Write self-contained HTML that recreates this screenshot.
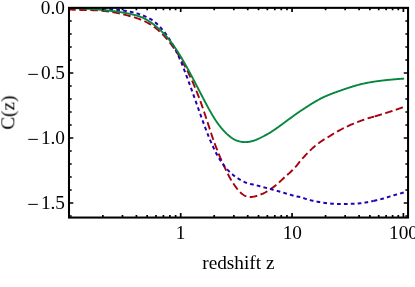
<!DOCTYPE html>
<html><head><meta charset="utf-8"><style>
html,body{margin:0;padding:0;background:#fff;}
svg{display:block;}
text{font-family:"Liberation Serif",serif;font-size:19.3px;fill:#000;}
path{fill:none;}
</style></head><body>
<svg width="415" height="287" viewBox="0 0 415 287">
<rect width="415" height="287" fill="#fff"/>
<path d="M68.10 9.39 L68.60 9.43 L69.10 9.47 L69.60 9.50 L70.10 9.54 L70.60 9.57 L71.10 9.60 L71.60 9.63 L72.10 9.65 L72.60 9.68 L73.10 9.70 L73.60 9.73 L74.10 9.75 L74.60 9.77 L75.10 9.78 L75.60 9.80 L76.10 9.82 L76.60 9.83 L77.10 9.85 L77.60 9.86 L78.10 9.87 L78.60 9.89 L79.10 9.90 L79.60 9.91 L80.10 9.92 L80.60 9.93 L81.10 9.94 L81.60 9.94 L82.10 9.95 L82.60 9.96 L83.10 9.97 L83.59 9.98 L84.09 9.98 L84.59 9.99 L85.09 10.00 L85.59 10.01 L86.09 10.02 L86.59 10.03 L87.09 10.04 L87.59 10.05 L88.09 10.06 L88.59 10.07 L89.09 10.08 L89.59 10.09 L90.09 10.10 L90.59 10.12 L91.09 10.13 L91.59 10.15 L92.09 10.17 L92.59 10.18 L93.09 10.20 L93.59 10.22 L94.09 10.25 L94.59 10.27 L95.09 10.29 L95.59 10.32 L96.09 10.35 L96.59 10.38 L97.09 10.41 L97.59 10.44 L98.09 10.48 L98.59 10.51 L99.09 10.55 L99.59 10.59 L100.09 10.64 L100.59 10.68 L101.09 10.73 L101.59 10.77 L102.09 10.82 L102.59 10.87 L103.09 10.92 L103.59 10.97 L104.09 11.02 L104.59 11.07 L105.09 11.12 L105.59 11.18 L106.09 11.23 L106.59 11.29 L107.09 11.35 L107.59 11.41 L108.09 11.47 L108.59 11.54 L109.09 11.60 L109.59 11.67 L110.09 11.74 L110.59 11.81 L111.09 11.89 L111.59 11.96 L112.09 12.04 L112.59 12.12 L113.09 12.21 L113.59 12.29 L114.08 12.38 L114.58 12.47 L115.08 12.57 L115.58 12.66 L116.08 12.76 L116.58 12.86 L117.08 12.96 L117.58 13.06 L118.08 13.16 L118.58 13.27 L119.08 13.37 L119.58 13.48 L120.08 13.59 L120.58 13.70 L121.08 13.82 L121.58 13.93 L122.08 14.05 L122.58 14.17 L123.08 14.29 L123.58 14.41 L124.08 14.53 L124.58 14.66 L125.08 14.79 L125.58 14.92 L126.08 15.05 L126.58 15.18 L127.08 15.32 L127.58 15.45 L128.08 15.59 L128.58 15.72 L129.08 15.86 L129.58 16.00 L130.08 16.14 L130.58 16.28 L131.08 16.42 L131.58 16.57 L132.08 16.71 L132.58 16.86 L133.08 17.01 L133.58 17.16 L134.08 17.31 L134.58 17.47 L135.08 17.62 L135.58 17.78 L136.08 17.94 L136.58 18.11 L137.08 18.28 L137.58 18.45 L138.08 18.62 L138.58 18.80 L139.08 18.98 L139.58 19.17 L140.08 19.36 L140.58 19.55 L141.08 19.75 L141.58 19.95 L142.08 20.16 L142.58 20.37 L143.08 20.59 L143.58 20.81 L144.08 21.03 L144.57 21.26 L145.07 21.50 L145.57 21.74 L146.07 21.99 L146.57 22.24 L147.07 22.50 L147.57 22.77 L148.07 23.04 L148.57 23.32 L149.07 23.61 L149.57 23.90 L150.07 24.20 L150.57 24.50 L151.07 24.82 L151.57 25.14 L152.07 25.47 L152.57 25.80 L153.07 26.15 L153.57 26.50 L154.07 26.86 L154.57 27.23 L155.07 27.60 L155.57 27.99 L156.07 28.38 L156.57 28.79 L157.07 29.20 L157.57 29.62 L158.07 30.04 L158.57 30.48 L159.07 30.93 L159.57 31.38 L160.07 31.84 L160.57 32.31 L161.07 32.79 L161.57 33.28 L162.07 33.78 L162.57 34.29 L163.07 34.80 L163.57 35.33 L164.07 35.86 L164.57 36.40 L165.07 36.95 L165.57 37.51 L166.07 38.07 L166.57 38.65 L167.07 39.23 L167.57 39.83 L168.07 40.43 L168.57 41.04 L169.07 41.66 L169.57 42.29 L170.07 42.93 L170.57 43.57 L171.07 44.23 L171.57 44.89 L172.07 45.56 L172.57 46.25 L173.07 46.94 L173.57 47.64 L174.07 48.34 L174.57 49.06 L175.07 49.79 L175.56 50.52 L176.06 51.27 L176.56 52.02 L177.06 52.78 L177.56 53.55 L178.06 54.34 L178.56 55.13 L179.06 55.93 L179.56 56.74 L180.06 57.56 L180.56 58.39 L181.06 59.24 L181.56 60.09 L182.06 60.95 L182.56 61.83 L183.06 62.71 L183.56 63.61 L184.06 64.52 L184.56 65.43 L185.06 66.37 L185.56 67.31 L186.06 68.26 L186.56 69.23 L187.06 70.21 L187.56 71.20 L188.06 72.20 L188.56 73.21 L189.06 74.24 L189.56 75.28 L190.06 76.34 L190.56 77.40 L191.06 78.48 L191.56 79.58 L192.06 80.68 L192.56 81.80 L193.06 82.94 L193.56 84.08 L194.06 85.25 L194.56 86.42 L195.06 87.61 L195.56 88.82 L196.06 90.04 L196.56 91.27 L197.06 92.52 L197.56 93.78 L198.06 95.06 L198.56 96.36 L199.06 97.67 L199.56 98.99 L200.06 100.33 L200.56 101.69 L201.06 103.07 L201.56 104.47 L202.06 105.89 L202.56 107.33 L203.06 108.78 L203.56 110.24 L204.06 111.72 L204.56 113.21 L205.06 114.70 L205.56 116.21 L206.05 117.72 L206.55 119.23 L207.05 120.75 L207.55 122.28 L208.05 123.80 L208.55 125.33 L209.05 126.87 L209.55 128.42 L210.05 129.96 L210.55 131.51 L211.05 133.05 L211.55 134.57 L212.05 136.08 L212.55 137.57 L213.05 139.03 L213.55 140.45 L214.05 141.84 L214.55 143.19 L215.05 144.51 L215.55 145.82 L216.05 147.10 L216.55 148.37 L217.05 149.64 L217.55 150.90 L218.05 152.16 L218.55 153.42 L219.05 154.66 L219.55 155.88 L220.05 157.08 L220.55 158.26 L221.05 159.42 L221.55 160.57 L222.05 161.70 L222.55 162.81 L223.05 163.92 L223.55 165.00 L224.05 166.08 L224.55 167.15 L225.05 168.20 L225.55 169.25 L226.05 170.29 L226.55 171.32 L227.05 172.33 L227.55 173.34 L228.05 174.32 L228.55 175.30 L229.05 176.25 L229.55 177.18 L230.05 178.09 L230.55 178.98 L231.05 179.85 L231.55 180.68 L232.05 181.49 L232.55 182.28 L233.05 183.05 L233.55 183.81 L234.05 184.54 L234.55 185.27 L235.05 185.97 L235.55 186.66 L236.05 187.33 L236.54 187.98 L237.04 188.62 L237.54 189.23 L238.04 189.83 L238.54 190.41 L239.04 190.96 L239.54 191.50 L240.04 192.01 L240.54 192.50 L241.04 192.97 L241.54 193.41 L242.04 193.83 L242.54 194.23 L243.04 194.59 L243.54 194.93 L244.04 195.25 L244.54 195.53 L245.04 195.79 L245.54 196.02 L246.04 196.23 L246.54 196.40 L247.04 196.55 L247.54 196.68 L248.04 196.78 L248.54 196.86 L249.04 196.92 L249.54 196.96 L250.04 196.97 L250.54 196.98 L251.04 196.96 L251.54 196.93 L252.04 196.88 L252.54 196.82 L253.04 196.75 L253.54 196.67 L254.04 196.57 L254.54 196.47 L255.04 196.35 L255.54 196.23 L256.04 196.11 L256.54 195.97 L257.04 195.83 L257.54 195.68 L258.04 195.52 L258.54 195.36 L259.04 195.19 L259.54 195.01 L260.04 194.82 L260.54 194.62 L261.04 194.42 L261.54 194.21 L262.04 193.99 L262.54 193.77 L263.04 193.53 L263.54 193.29 L264.04 193.04 L264.54 192.78 L265.04 192.52 L265.54 192.24 L266.04 191.96 L266.54 191.67 L267.03 191.38 L267.53 191.07 L268.03 190.76 L268.53 190.44 L269.03 190.11 L269.53 189.77 L270.03 189.42 L270.53 189.07 L271.03 188.73 L271.53 188.39 L272.03 188.04 L272.53 187.69 L273.03 187.34 L273.53 186.99 L274.03 186.63 L274.53 186.26 L275.03 185.88 L275.53 185.48 L276.03 185.08 L276.53 184.66 L277.03 184.24 L277.53 183.81 L278.03 183.37 L278.53 182.92 L279.03 182.47 L279.53 182.02 L280.03 181.56 L280.53 181.09 L281.03 180.62 L281.53 180.15 L282.03 179.68 L282.53 179.20 L283.03 178.73 L283.53 178.25 L284.03 177.77 L284.53 177.30 L285.03 176.85 L285.53 176.40 L286.03 175.96 L286.53 175.53 L287.03 175.11 L287.53 174.68 L288.03 174.25 L288.53 173.82 L289.03 173.39 L289.53 172.94 L290.03 172.49 L290.53 172.02 L291.03 171.54 L291.53 171.03 L292.03 170.51 L292.53 169.99 L293.03 169.46 L293.53 168.93 L294.03 168.40 L294.53 167.87 L295.03 167.35 L295.53 166.82 L296.03 166.30 L296.53 165.75 L297.03 165.16 L297.52 164.55 L298.02 163.90 L298.52 163.25 L299.02 162.59 L299.52 161.94 L300.02 161.29 L300.52 160.67 L301.02 160.08 L301.52 159.51 L302.02 158.95 L302.52 158.40 L303.02 157.85 L303.52 157.31 L304.02 156.78 L304.52 156.24 L305.02 155.72 L305.52 155.20 L306.02 154.68 L306.52 154.16 L307.02 153.65 L307.52 153.13 L308.02 152.61 L308.52 152.09 L309.02 151.58 L309.52 151.07 L310.02 150.56 L310.52 150.06 L311.02 149.57 L311.52 149.09 L312.02 148.63 L312.52 148.18 L313.02 147.75 L313.52 147.33 L314.02 146.91 L314.52 146.49 L315.02 146.08 L315.52 145.67 L316.02 145.26 L316.52 144.86 L317.02 144.46 L317.52 144.06 L318.02 143.66 L318.52 143.27 L319.02 142.89 L319.52 142.52 L320.02 142.16 L320.52 141.80 L321.02 141.45 L321.52 141.11 L322.02 140.77 L322.52 140.43 L323.02 140.10 L323.52 139.77 L324.02 139.44 L324.52 139.13 L325.02 138.82 L325.52 138.53 L326.02 138.24 L326.52 137.96 L327.02 137.68 L327.52 137.40 L328.02 137.13 L328.51 136.84 L329.01 136.55 L329.51 136.25 L330.01 135.94 L330.51 135.62 L331.01 135.30 L331.51 134.99 L332.01 134.68 L332.51 134.37 L333.01 134.06 L333.51 133.76 L334.01 133.46 L334.51 133.16 L335.01 132.86 L335.51 132.57 L336.01 132.28 L336.51 131.99 L337.01 131.70 L337.51 131.42 L338.01 131.14 L338.51 130.86 L339.01 130.58 L339.51 130.31 L340.01 130.04 L340.51 129.77 L341.01 129.50 L341.51 129.24 L342.01 128.98 L342.51 128.72 L343.01 128.47 L343.51 128.21 L344.01 127.96 L344.51 127.72 L345.01 127.47 L345.51 127.23 L346.01 126.99 L346.51 126.75 L347.01 126.51 L347.51 126.28 L348.01 126.05 L348.51 125.82 L349.01 125.59 L349.51 125.37 L350.01 125.14 L350.51 124.92 L351.01 124.70 L351.51 124.49 L352.01 124.27 L352.51 124.06 L353.01 123.85 L353.51 123.64 L354.01 123.43 L354.51 123.23 L355.01 123.02 L355.51 122.82 L356.01 122.62 L356.51 122.42 L357.01 122.23 L357.51 122.03 L358.01 121.84 L358.51 121.65 L359.00 121.46 L359.50 121.27 L360.00 121.08 L360.50 120.90 L361.00 120.71 L361.50 120.53 L362.00 120.35 L362.50 120.17 L363.00 119.99 L363.50 119.82 L364.00 119.64 L364.50 119.47 L365.00 119.30 L365.50 119.13 L366.00 118.96 L366.50 118.80 L367.00 118.64 L367.50 118.48 L368.00 118.33 L368.50 118.17 L369.00 118.02 L369.50 117.88 L370.00 117.73 L370.50 117.59 L371.00 117.44 L371.50 117.30 L372.00 117.16 L372.50 117.02 L373.00 116.88 L373.50 116.74 L374.00 116.60" stroke="#a8000f" stroke-width="1.9" stroke-dasharray="7.6 3.5"/>
<path d="M374.60 116.43 L375.10 116.29 L375.60 116.15 L376.10 116.00 L376.60 115.86 L377.10 115.72 L377.60 115.57 L378.10 115.42 L378.60 115.27 L379.10 115.12 L379.60 114.97 L380.10 114.81 L380.60 114.65 L381.10 114.49 L381.60 114.34 L382.10 114.18 L382.60 114.02 L383.10 113.86 L383.60 113.71 L384.10 113.55 L384.60 113.39 L385.10 113.23 L385.60 113.07 L386.10 112.92 L386.60 112.76 L387.10 112.60 L387.60 112.44 L388.10 112.28 L388.60 112.12 L389.10 111.96 L389.60 111.80 L390.10 111.64 L390.60 111.48 L391.10 111.32 L391.60 111.16 L392.10 110.99 L392.60 110.83 L393.10 110.67 L393.60 110.50 L394.10 110.34 L394.60 110.17 L395.10 110.00 L395.60 109.84 L396.10 109.67 L396.60 109.50 L397.10 109.33 L397.60 109.16 L398.10 108.99 L398.60 108.81 L399.10 108.64 L399.60 108.47 L400.10 108.29 L400.60 108.11 L401.10 107.94 L401.60 107.76 L402.10 107.58 L402.60 107.40 L403.10 107.21 L403.60 107.03 L404.10 106.84" stroke="#a8000f" stroke-width="1.9" stroke-dasharray="7.6 3.5"/>
<path d="M68.10 8.10 L68.60 8.07 L69.10 8.05 L69.60 8.03 L70.10 8.01 L70.60 7.99 L71.10 7.97 L71.60 7.96 L72.10 7.94 L72.60 7.93 L73.10 7.92 L73.60 7.91 L74.10 7.90 L74.60 7.90 L75.10 7.89 L75.60 7.89 L76.10 7.89 L76.60 7.89 L77.10 7.89 L77.60 7.89 L78.10 7.90 L78.60 7.90 L79.10 7.91 L79.60 7.92 L80.10 7.93 L80.60 7.94 L81.10 7.95 L81.60 7.96 L82.10 7.97 L82.60 7.99 L83.10 8.00 L83.60 8.02 L84.10 8.04 L84.60 8.05 L85.10 8.07 L85.60 8.09 L86.10 8.11 L86.60 8.13 L87.10 8.15 L87.60 8.17 L88.10 8.20 L88.60 8.22 L89.10 8.24 L89.60 8.27 L90.10 8.29 L90.60 8.32 L91.10 8.34 L91.60 8.37 L92.10 8.39 L92.60 8.42 L93.10 8.44 L93.60 8.47 L94.10 8.50 L94.60 8.52 L95.10 8.55 L95.60 8.58 L96.10 8.60 L96.60 8.63 L97.10 8.66 L97.60 8.68 L98.10 8.71 L98.60 8.74 L99.10 8.76 L99.60 8.79 L100.10 8.81 L100.60 8.84 L101.10 8.86 L101.60 8.89 L102.10 8.91 L102.60 8.94 L103.10 8.96 L103.60 8.99 L104.10 9.01 L104.60 9.04 L105.10 9.06 L105.60 9.09 L106.10 9.11 L106.60 9.14 L107.10 9.16 L107.60 9.19 L108.10 9.22 L108.60 9.25 L109.10 9.27 L109.60 9.30 L110.10 9.33 L110.60 9.36 L111.10 9.39 L111.60 9.43 L112.10 9.46 L112.60 9.49 L113.10 9.53 L113.60 9.56 L114.10 9.60 L114.60 9.64 L115.10 9.68 L115.60 9.72 L116.10 9.76 L116.60 9.81 L117.10 9.85 L117.60 9.90 L118.10 9.95 L118.60 10.00 L119.10 10.05 L119.60 10.10 L120.10 10.15 L120.60 10.21 L121.10 10.27 L121.60 10.33 L122.10 10.39 L122.60 10.46 L123.10 10.52 L123.60 10.59 L124.10 10.66 L124.60 10.74 L125.10 10.81 L125.60 10.89 L126.10 10.97 L126.60 11.05 L127.10 11.14 L127.60 11.23 L128.10 11.32 L128.60 11.41 L129.10 11.50 L129.60 11.60 L130.10 11.70 L130.60 11.81 L131.10 11.91 L131.60 12.02 L132.10 12.14 L132.60 12.25 L133.10 12.37 L133.60 12.50 L134.10 12.62 L134.60 12.75 L135.10 12.89 L135.60 13.02 L136.10 13.16 L136.60 13.31 L137.10 13.45 L137.60 13.60 L138.10 13.76 L138.60 13.92 L139.10 14.08 L139.60 14.25 L140.10 14.42 L140.60 14.60 L141.10 14.78 L141.60 14.96 L142.10 15.15 L142.60 15.35 L143.10 15.54 L143.60 15.75 L144.10 15.95 L144.60 16.17 L145.10 16.38 L145.60 16.60 L146.10 16.83 L146.60 17.06 L147.10 17.30 L147.60 17.54 L148.10 17.79 L148.60 18.04 L149.10 18.30 L149.60 18.57 L150.10 18.84 L150.60 19.12 L151.10 19.41 L151.60 19.72 L152.10 20.04 L152.60 20.38 L153.10 20.73 L153.60 21.10 L154.10 21.47 L154.60 21.87 L155.10 22.27 L155.60 22.69 L156.10 23.12 L156.60 23.56 L157.10 24.02 L157.60 24.49 L158.10 24.97 L158.60 25.47 L159.10 25.98 L159.60 26.50 L160.10 27.03 L160.60 27.57 L161.10 28.13 L161.60 28.70 L162.10 29.28 L162.60 29.87 L163.10 30.48 L163.60 31.10 L164.10 31.72 L164.60 32.36 L165.10 33.01 L165.60 33.68 L166.10 34.35 L166.60 35.04 L167.10 35.73 L167.60 36.45 L168.10 37.17 L168.60 37.91 L169.10 38.66 L169.60 39.43 L170.10 40.21 L170.60 41.01 L171.10 41.83 L171.60 42.66 L172.10 43.50 L172.60 44.37 L173.10 45.25 L173.60 46.15 L174.10 47.06 L174.60 48.00 L175.10 48.96 L175.60 49.93 L176.10 50.92 L176.60 51.94 L177.10 52.97 L177.60 54.03 L178.10 55.11 L178.60 56.21 L179.10 57.33 L179.60 58.48 L180.10 59.64 L180.60 60.83 L181.10 62.03 L181.60 63.24 L182.10 64.47 L182.60 65.71 L183.10 66.96 L183.60 68.22 L184.10 69.50 L184.60 70.79 L185.10 72.08 L185.60 73.39 L186.10 74.71 L186.60 76.03 L187.10 77.37 L187.60 78.71 L188.10 80.06 L188.60 81.42 L189.10 82.78 L189.60 84.16 L190.10 85.53 L190.60 86.92 L191.10 88.30 L191.60 89.70 L192.10 91.09 L192.60 92.49 L193.10 93.90 L193.60 95.31 L194.10 96.71 L194.60 98.12 L195.10 99.54 L195.60 100.95 L196.10 102.36 L196.60 103.78 L197.10 105.19 L197.60 106.60 L198.10 108.01 L198.60 109.42 L199.10 110.83 L199.60 112.24 L200.10 113.64 L200.60 115.03 L201.10 116.43 L201.60 117.82 L202.10 119.20 L202.60 120.57 L203.10 121.94 L203.60 123.31 L204.10 124.66 L204.60 126.00 L205.10 127.34 L205.60 128.66 L206.10 129.98 L206.60 131.28 L207.10 132.57 L207.60 133.85 L208.10 135.11 L208.60 136.36 L209.10 137.60 L209.60 138.82 L210.10 140.02 L210.60 141.21 L211.10 142.38 L211.60 143.53 L212.10 144.66 L212.60 145.78 L213.10 146.87 L213.60 147.94 L214.10 148.99 L214.60 150.02 L215.10 151.03 L215.60 152.02 L216.10 152.98 L216.60 153.92 L217.10 154.83 L217.60 155.73 L218.10 156.60 L218.60 157.46 L219.10 158.29 L219.60 159.11 L220.10 159.90 L220.60 160.68 L221.10 161.44 L221.60 162.18 L222.10 162.90 L222.60 163.61 L223.10 164.30 L223.60 164.97 L224.10 165.62 L224.60 166.27 L225.10 166.89 L225.60 167.50 L226.10 168.10 L226.60 168.68 L227.10 169.25 L227.60 169.80 L228.10 170.35 L228.60 170.87 L229.10 171.38 L229.60 171.88 L230.10 172.37 L230.60 172.84 L231.10 173.30 L231.60 173.75 L232.10 174.18 L232.60 174.60 L233.10 175.01 L233.60 175.41 L234.10 175.79 L234.60 176.17 L235.10 176.53 L235.60 176.87 L236.10 177.21 L236.60 177.54 L237.10 177.87 L237.60 178.20 L238.10 178.52 L238.60 178.84 L239.10 179.15 L239.60 179.46 L240.10 179.76 L240.60 180.06 L241.10 180.34 L241.60 180.62 L242.10 180.89 L242.60 181.16 L243.10 181.41 L243.60 181.65 L244.10 181.88 L244.60 182.10 L245.10 182.31 L245.60 182.51 L246.10 182.69 L246.60 182.87 L247.10 183.03 L247.60 183.19 L248.10 183.33 L248.60 183.47 L249.10 183.61 L249.60 183.74 L250.10 183.86 L250.60 183.98 L251.10 184.10 L251.60 184.21 L252.10 184.33 L252.60 184.44 L253.10 184.55 L253.60 184.66 L254.10 184.77 L254.60 184.89 L255.10 185.00 L255.60 185.12 L256.10 185.24 L256.60 185.36 L257.10 185.49 L257.60 185.62 L258.10 185.75 L258.60 185.89 L259.10 186.03 L259.60 186.16 L260.10 186.30 L260.60 186.43 L261.10 186.57 L261.60 186.70 L262.10 186.83 L262.60 186.96 L263.10 187.10 L263.60 187.23 L264.10 187.36 L264.60 187.49 L265.10 187.62 L265.60 187.75 L266.10 187.88 L266.60 188.01 L267.10 188.15 L267.60 188.28 L268.10 188.41 L268.60 188.54 L269.10 188.67 L269.60 188.80 L270.10 188.93 L270.60 189.07 L271.10 189.20 L271.60 189.33 L272.10 189.47 L272.60 189.60 L273.10 189.74 L273.60 189.87 L274.10 190.01 L274.60 190.15 L275.10 190.29 L275.60 190.43 L276.10 190.57 L276.60 190.71 L277.10 190.85 L277.60 190.99 L278.10 191.13 L278.60 191.28 L279.10 191.42 L279.60 191.57 L280.10 191.71 L280.60 191.86 L281.10 192.00 L281.60 192.15 L282.10 192.30 L282.60 192.44 L283.10 192.59 L283.60 192.74 L284.10 192.89 L284.60 193.04 L285.10 193.19 L285.60 193.34 L286.10 193.48 L286.60 193.63 L287.10 193.78 L287.60 193.93 L288.10 194.08 L288.60 194.23 L289.10 194.38 L289.60 194.53 L290.10 194.68 L290.60 194.83 L291.10 194.98 L291.60 195.13 L292.10 195.27 L292.60 195.42 L293.10 195.57 L293.60 195.72 L294.10 195.86 L294.60 196.01 L295.10 196.16 L295.60 196.28 L296.10 196.38 L296.60 196.47 L297.10 196.54 L297.60 196.61 L298.10 196.68 L298.60 196.76 L299.10 196.85 L299.60 196.95 L300.10 197.08 L300.60 197.23 L301.10 197.37 L301.60 197.53 L302.10 197.68 L302.60 197.84 L303.10 198.01 L303.60 198.17 L304.10 198.34 L304.60 198.50 L305.10 198.67 L305.60 198.83 L306.10 198.99 L306.60 199.15 L307.10 199.31 L307.60 199.46 L308.10 199.61 L308.60 199.75 L309.10 199.89 L309.60 200.02 L310.10 200.15 L310.60 200.26 L311.10 200.38 L311.60 200.50 L312.10 200.61 L312.60 200.73 L313.10 200.84 L313.60 200.95 L314.10 201.05 L314.60 201.16 L315.10 201.26 L315.60 201.36 L316.10 201.46 L316.60 201.56 L317.10 201.66 L317.60 201.75 L318.10 201.85 L318.60 201.94 L319.10 202.03 L319.60 202.11 L320.10 202.20 L320.60 202.28 L321.10 202.36 L321.60 202.44 L322.10 202.52 L322.60 202.60 L323.10 202.67 L323.60 202.75 L324.10 202.82 L324.60 202.89 L325.10 202.95 L325.60 203.02 L326.10 203.08 L326.60 203.14 L327.10 203.20 L327.60 203.26 L328.10 203.32 L328.60 203.37 L329.10 203.42 L329.60 203.47 L330.10 203.52 L330.60 203.57 L331.10 203.62 L331.60 203.66 L332.10 203.70 L332.60 203.74 L333.10 203.78 L333.60 203.81 L334.10 203.84 L334.60 203.88 L335.10 203.91 L335.60 203.93 L336.10 203.96 L336.60 203.98 L337.10 204.00 L337.60 204.03 L338.10 204.04 L338.60 204.06 L339.10 204.07 L339.60 204.09 L340.10 204.10 L340.60 204.10 L341.10 204.11 L341.60 204.12 L342.10 204.12 L342.60 204.12 L343.10 204.12 L343.60 204.11 L344.10 204.11 L344.60 204.10 L345.10 204.09 L345.60 204.08 L346.10 204.07 L346.60 204.05 L347.10 204.04 L347.60 204.02 L348.10 204.00 L348.60 203.97 L349.10 203.95 L349.60 203.92 L350.10 203.89 L350.60 203.87 L351.10 203.86 L351.60 203.85 L352.10 203.84 L352.60 203.83 L353.10 203.81 L353.60 203.79 L354.10 203.76 L354.60 203.73 L355.10 203.70 L355.60 203.67 L356.10 203.64 L356.60 203.60 L357.10 203.56 L357.60 203.52 L358.10 203.48 L358.60 203.43 L359.10 203.38 L359.60 203.33 L360.10 203.28 L360.60 203.22 L361.10 203.17 L361.60 203.10 L362.10 203.04 L362.60 202.97 L363.10 202.91 L363.60 202.83 L364.10 202.76 L364.60 202.68 L365.10 202.60 L365.60 202.51 L366.10 202.42 L366.60 202.33 L367.10 202.24 L367.60 202.15 L368.10 202.05 L368.60 201.95 L369.10 201.86 L369.60 201.76 L370.10 201.66 L370.60 201.55 L371.10 201.45 L371.60 201.34 L372.10 201.24 L372.60 201.13 L373.10 201.02 L373.60 200.91" stroke="#2600b0" stroke-width="2.0" stroke-dasharray="3.7 3.186"/>
<path d="M373.60 200.91 L374.10 200.80 L374.60 200.68 L375.10 200.57 L375.60 200.45 L376.10 200.34 L376.60 200.22 L377.10 200.10 L377.60 199.98 L378.10 199.86 L378.60 199.74 L379.10 199.61 L379.60 199.49 L380.10 199.36 L380.60 199.23 L381.10 199.11 L381.60 198.98 L382.10 198.85 L382.60 198.72 L383.10 198.58 L383.60 198.44 L384.10 198.30 L384.60 198.15 L385.10 198.00 L385.60 197.85 L386.10 197.69 L386.60 197.54 L387.10 197.38 L387.60 197.22 L388.10 197.06 L388.60 196.90 L389.10 196.74 L389.60 196.58 L390.10 196.42 L390.60 196.26 L391.10 196.11 L391.60 195.95 L392.10 195.79 L392.60 195.64 L393.10 195.49 L393.60 195.34 L394.10 195.19 L394.60 195.05 L395.10 194.91 L395.60 194.77 L396.10 194.63 L396.60 194.49 L397.10 194.35 L397.60 194.21 L398.10 194.07 L398.60 193.93 L399.10 193.79 L399.60 193.65 L400.10 193.51 L400.60 193.37 L401.10 193.23 L401.60 193.09 L402.10 192.95 L402.60 192.82 L403.10 192.68 L403.60 192.54 L404.10 192.40" stroke="#2600b0" stroke-width="2.0" stroke-dasharray="3.7 3.186"/>
<path d="M68.10 8.15 L68.60 8.15 L69.10 8.14 L69.60 8.13 L70.10 8.13 L70.60 8.13 L71.10 8.13 L71.60 8.13 L72.10 8.13 L72.60 8.14 L73.10 8.14 L73.60 8.15 L74.10 8.15 L74.60 8.16 L75.10 8.17 L75.60 8.18 L76.10 8.19 L76.60 8.21 L77.10 8.22 L77.60 8.23 L78.10 8.25 L78.60 8.27 L79.10 8.29 L79.60 8.31 L80.10 8.33 L80.60 8.35 L81.10 8.37 L81.60 8.39 L82.10 8.42 L82.60 8.44 L83.10 8.47 L83.60 8.49 L84.10 8.52 L84.60 8.55 L85.10 8.58 L85.60 8.61 L86.10 8.64 L86.60 8.67 L87.10 8.71 L87.60 8.74 L88.10 8.77 L88.60 8.81 L89.10 8.84 L89.60 8.88 L90.10 8.91 L90.60 8.95 L91.10 8.99 L91.60 9.03 L92.10 9.07 L92.60 9.11 L93.10 9.15 L93.60 9.19 L94.10 9.23 L94.60 9.27 L95.10 9.31 L95.60 9.35 L96.10 9.40 L96.60 9.44 L97.10 9.49 L97.60 9.53 L98.10 9.57 L98.60 9.62 L99.10 9.66 L99.60 9.71 L100.10 9.76 L100.60 9.80 L101.10 9.85 L101.60 9.89 L102.10 9.94 L102.60 9.99 L103.10 10.04 L103.60 10.09 L104.10 10.13 L104.60 10.18 L105.10 10.23 L105.60 10.28 L106.10 10.34 L106.60 10.39 L107.10 10.44 L107.60 10.49 L108.10 10.54 L108.60 10.60 L109.10 10.65 L109.60 10.71 L110.10 10.77 L110.60 10.82 L111.10 10.88 L111.60 10.94 L112.10 11.00 L112.60 11.06 L113.10 11.12 L113.60 11.18 L114.10 11.25 L114.60 11.31 L115.10 11.38 L115.60 11.44 L116.10 11.51 L116.60 11.58 L117.10 11.65 L117.60 11.72 L118.10 11.79 L118.60 11.87 L119.10 11.94 L119.60 12.02 L120.10 12.09 L120.60 12.17 L121.10 12.25 L121.60 12.33 L122.10 12.41 L122.60 12.50 L123.10 12.58 L123.60 12.67 L124.10 12.76 L124.60 12.85 L125.10 12.94 L125.60 13.03 L126.10 13.13 L126.60 13.22 L127.10 13.32 L127.60 13.42 L128.10 13.52 L128.60 13.62 L129.10 13.73 L129.60 13.83 L130.10 13.94 L130.60 14.05 L131.10 14.16 L131.60 14.27 L132.10 14.39 L132.60 14.51 L133.10 14.63 L133.60 14.75 L134.10 14.88 L134.60 15.01 L135.10 15.14 L135.60 15.28 L136.10 15.41 L136.60 15.56 L137.10 15.70 L137.60 15.85 L138.10 16.00 L138.60 16.16 L139.10 16.32 L139.60 16.49 L140.10 16.66 L140.60 16.84 L141.10 17.03 L141.60 17.22 L142.10 17.43 L142.60 17.65 L143.10 17.88 L143.60 18.11 L144.10 18.36 L144.60 18.61 L145.10 18.87 L145.60 19.14 L146.10 19.42 L146.60 19.71 L147.10 20.00 L147.60 20.30 L148.10 20.61 L148.60 20.93 L149.10 21.26 L149.60 21.59 L150.10 21.93 L150.60 22.27 L151.10 22.62 L151.60 22.98 L152.10 23.35 L152.60 23.72 L153.10 24.09 L153.60 24.47 L154.10 24.86 L154.60 25.25 L155.10 25.65 L155.60 26.05 L156.10 26.46 L156.60 26.87 L157.10 27.29 L157.60 27.70 L158.10 28.13 L158.60 28.56 L159.10 29.00 L159.60 29.44 L160.10 29.90 L160.60 30.36 L161.10 30.84 L161.60 31.32 L162.10 31.81 L162.60 32.31 L163.10 32.82 L163.60 33.34 L164.10 33.86 L164.60 34.40 L165.10 34.94 L165.60 35.50 L166.10 36.06 L166.60 36.63 L167.10 37.21 L167.60 37.80 L168.10 38.40 L168.60 39.01 L169.10 39.63 L169.60 40.25 L170.10 40.89 L170.60 41.54 L171.10 42.19 L171.60 42.86 L172.10 43.53 L172.60 44.21 L173.10 44.91 L173.60 45.61 L174.10 46.32 L174.60 47.04 L175.10 47.77 L175.60 48.52 L176.10 49.27 L176.60 50.02 L177.10 50.79 L177.60 51.57 L178.10 52.35 L178.60 53.15 L179.10 53.95 L179.60 54.76 L180.10 55.57 L180.60 56.40 L181.10 57.23 L181.60 58.06 L182.10 58.91 L182.60 59.76 L183.10 60.62 L183.60 61.48 L184.10 62.36 L184.60 63.23 L185.10 64.12 L185.60 65.00 L186.10 65.90 L186.60 66.80 L187.10 67.70 L187.60 68.61 L188.10 69.52 L188.60 70.44 L189.10 71.36 L189.60 72.29 L190.10 73.22 L190.60 74.15 L191.10 75.09 L191.60 76.03 L192.10 76.97 L192.60 77.92 L193.10 78.87 L193.60 79.82 L194.10 80.78 L194.60 81.73 L195.10 82.69 L195.60 83.65 L196.10 84.62 L196.60 85.58 L197.10 86.55 L197.60 87.51 L198.10 88.48 L198.60 89.45 L199.10 90.41 L199.60 91.38 L200.10 92.35 L200.60 93.31 L201.10 94.28 L201.60 95.25 L202.10 96.21 L202.60 97.17 L203.10 98.13 L203.60 99.09 L204.10 100.04 L204.60 100.99 L205.10 101.94 L205.60 102.88 L206.10 103.82 L206.60 104.76 L207.10 105.69 L207.60 106.61 L208.10 107.53 L208.60 108.44 L209.10 109.35 L209.60 110.25 L210.10 111.14 L210.60 112.02 L211.10 112.90 L211.60 113.77 L212.10 114.63 L212.60 115.47 L213.10 116.31 L213.60 117.12 L214.10 117.92 L214.60 118.71 L215.10 119.48 L215.60 120.24 L216.10 120.99 L216.60 121.72 L217.10 122.44 L217.60 123.15 L218.10 123.85 L218.60 124.54 L219.10 125.21 L219.60 125.87 L220.10 126.51 L220.60 127.14 L221.10 127.75 L221.60 128.34 L222.10 128.92 L222.60 129.49 L223.10 130.05 L223.60 130.60 L224.10 131.15 L224.60 131.68 L225.10 132.19 L225.60 132.70 L226.10 133.18 L226.60 133.65 L227.10 134.12 L227.60 134.56 L228.10 135.00 L228.60 135.43 L229.10 135.85 L229.60 136.26 L230.10 136.66 L230.60 137.05 L231.10 137.43 L231.60 137.79 L232.10 138.13 L232.60 138.46 L233.10 138.77 L233.60 139.07 L234.10 139.35 L234.60 139.61 L235.10 139.86 L235.60 140.09 L236.10 140.30 L236.60 140.50 L237.10 140.68 L237.60 140.85 L238.10 141.02 L238.60 141.17 L239.10 141.31 L239.60 141.44 L240.10 141.56 L240.60 141.67 L241.10 141.76 L241.60 141.85 L242.10 141.91 L242.60 141.97 L243.10 142.01 L243.60 142.05 L244.10 142.07 L244.60 142.09 L245.10 142.10 L245.60 142.10 L246.10 142.09 L246.60 142.07 L247.10 142.04 L247.60 141.99 L248.10 141.94 L248.60 141.87 L249.10 141.80 L249.60 141.71 L250.10 141.61 L250.60 141.51 L251.10 141.41 L251.60 141.29 L252.10 141.17 L252.60 141.04 L253.10 140.90 L253.60 140.75 L254.10 140.59 L254.60 140.42 L255.10 140.23 L255.60 140.04 L256.10 139.84 L256.60 139.63 L257.10 139.42 L257.60 139.19 L258.10 138.97 L258.60 138.73 L259.10 138.50 L259.60 138.25 L260.10 138.01 L260.60 137.76 L261.10 137.50 L261.60 137.25 L262.10 136.99 L262.60 136.74 L263.10 136.48 L263.60 136.23 L264.10 135.97 L264.60 135.72 L265.10 135.46 L265.60 135.20 L266.10 134.93 L266.60 134.66 L267.10 134.38 L267.60 134.09 L268.10 133.80 L268.60 133.50 L269.10 133.20 L269.60 132.89 L270.10 132.58 L270.60 132.27 L271.10 131.95 L271.60 131.63 L272.10 131.30 L272.60 130.97 L273.10 130.64 L273.60 130.31 L274.10 129.97 L274.60 129.63 L275.10 129.29 L275.60 128.94 L276.10 128.60 L276.60 128.25 L277.10 127.89 L277.60 127.54 L278.10 127.18 L278.60 126.83 L279.10 126.47 L279.60 126.11 L280.10 125.74 L280.60 125.38 L281.10 125.02 L281.60 124.65 L282.10 124.28 L282.60 123.91 L283.10 123.55 L283.60 123.18 L284.10 122.81 L284.60 122.44 L285.10 122.07 L285.60 121.69 L286.10 121.32 L286.60 120.95 L287.10 120.58 L287.60 120.21 L288.10 119.84 L288.60 119.47 L289.10 119.10 L289.60 118.74 L290.10 118.37 L290.60 118.00 L291.10 117.63 L291.60 117.27 L292.10 116.90 L292.60 116.54 L293.10 116.18 L293.60 115.82 L294.10 115.46 L294.60 115.10 L295.10 114.74 L295.60 114.38 L296.10 114.03 L296.60 113.68 L297.10 113.32 L297.60 112.97 L298.10 112.63 L298.60 112.28 L299.10 111.94 L299.60 111.59 L300.10 111.25 L300.60 110.92 L301.10 110.58 L301.60 110.25 L302.10 109.92 L302.60 109.59 L303.10 109.26 L303.60 108.93 L304.10 108.60 L304.60 108.28 L305.10 107.95 L305.60 107.62 L306.10 107.30 L306.60 106.97 L307.10 106.65 L307.60 106.32 L308.10 106.00 L308.60 105.68 L309.10 105.36 L309.60 105.04 L310.10 104.73 L310.60 104.41 L311.10 104.10 L311.60 103.79 L312.10 103.48 L312.60 103.18 L313.10 102.88 L313.60 102.58 L314.10 102.28 L314.60 101.98 L315.10 101.69 L315.60 101.41 L316.10 101.12 L316.60 100.84 L317.10 100.57 L317.60 100.29 L318.10 100.02 L318.60 99.75 L319.10 99.48 L319.60 99.21 L320.10 98.95 L320.60 98.68 L321.10 98.42 L321.60 98.17 L322.10 97.92 L322.60 97.67 L323.10 97.42 L323.60 97.18 L324.10 96.94 L324.60 96.71 L325.10 96.48 L325.60 96.25 L326.10 96.03 L326.60 95.81 L327.10 95.60 L327.60 95.38 L328.10 95.17 L328.60 94.96 L329.10 94.76 L329.60 94.56 L330.10 94.36 L330.60 94.16 L331.10 93.96 L331.60 93.77 L332.10 93.58 L332.60 93.39 L333.10 93.20 L333.60 93.01 L334.10 92.83 L334.60 92.65 L335.10 92.46 L335.60 92.28 L336.10 92.10 L336.60 91.93 L337.10 91.75 L337.60 91.57 L338.10 91.40 L338.60 91.22 L339.10 91.04 L339.60 90.87 L340.10 90.70 L340.60 90.52 L341.10 90.35 L341.60 90.17 L342.10 90.00 L342.60 89.83 L343.10 89.66 L343.60 89.48 L344.10 89.31 L344.60 89.14 L345.10 88.97 L345.60 88.80 L346.10 88.63 L346.60 88.47 L347.10 88.30 L347.60 88.13 L348.10 87.97 L348.60 87.80 L349.10 87.64 L349.60 87.48 L350.10 87.31 L350.60 87.15 L351.10 87.00 L351.60 86.84 L352.10 86.68 L352.60 86.53 L353.10 86.37 L353.60 86.22 L354.10 86.07 L354.60 85.92 L355.10 85.77 L355.60 85.63 L356.10 85.49 L356.60 85.34 L357.10 85.20 L357.60 85.07 L358.10 84.93 L358.60 84.80 L359.10 84.66 L359.60 84.53 L360.10 84.41 L360.60 84.28 L361.10 84.16 L361.60 84.04 L362.10 83.92 L362.60 83.80 L363.10 83.69 L363.60 83.58 L364.10 83.47 L364.60 83.36 L365.10 83.26 L365.60 83.16 L366.10 83.06 L366.60 82.96 L367.10 82.86 L367.60 82.77 L368.10 82.67 L368.60 82.58 L369.10 82.49 L369.60 82.40 L370.10 82.31 L370.60 82.23 L371.10 82.14 L371.60 82.06 L372.10 81.97 L372.60 81.89 L373.10 81.81 L373.60 81.73 L374.10 81.66 L374.60 81.58 L375.10 81.50 L375.60 81.43 L376.10 81.36 L376.60 81.29 L377.10 81.22 L377.60 81.15 L378.10 81.08 L378.60 81.01 L379.10 80.94 L379.60 80.88 L380.10 80.82 L380.60 80.75 L381.10 80.69 L381.60 80.63 L382.10 80.57 L382.60 80.51 L383.10 80.45 L383.60 80.40 L384.10 80.34 L384.60 80.28 L385.10 80.23 L385.60 80.18 L386.10 80.12 L386.60 80.07 L387.10 80.02 L387.60 79.97 L388.10 79.92 L388.60 79.87 L389.10 79.82 L389.60 79.77 L390.10 79.72 L390.60 79.68 L391.10 79.63 L391.60 79.58 L392.10 79.54 L392.60 79.49 L393.10 79.45 L393.60 79.40 L394.10 79.36 L394.60 79.32 L395.10 79.28 L395.60 79.23 L396.10 79.19 L396.60 79.15 L397.10 79.11 L397.60 79.07 L398.10 79.03 L398.60 79.00 L399.10 78.96 L399.60 78.92 L400.10 78.89 L400.60 78.85 L401.10 78.82 L401.60 78.78 L402.10 78.75 L402.60 78.72 L403.10 78.68 L403.60 78.65 L404.10 78.63" stroke="#06863f" stroke-width="1.9"/>
<path d="M102.87 217.55 V214.90 M102.87 7.85 V10.25 M122.48 217.55 V214.90 M122.48 7.85 V10.25 M136.39 217.55 V214.90 M136.39 7.85 V10.25 M147.18 217.55 V214.90 M147.18 7.85 V10.25 M156.00 217.55 V214.90 M156.00 7.85 V10.25 M163.45 217.55 V214.90 M163.45 7.85 V10.25 M169.91 217.55 V214.90 M169.91 7.85 V10.25 M175.60 217.55 V214.90 M175.60 7.85 V10.25 M180.70 217.55 V213.10 M180.70 7.85 V12.05 M214.22 217.55 V214.90 M214.22 7.85 V10.25 M233.83 217.55 V214.90 M233.83 7.85 V10.25 M247.74 217.55 V214.90 M247.74 7.85 V10.25 M258.53 217.55 V214.90 M258.53 7.85 V10.25 M267.35 217.55 V214.90 M267.35 7.85 V10.25 M274.80 217.55 V214.90 M274.80 7.85 V10.25 M281.26 217.55 V214.90 M281.26 7.85 V10.25 M286.95 217.55 V214.90 M286.95 7.85 V10.25 M292.05 217.55 V213.10 M292.05 7.85 V12.05 M325.57 217.55 V214.90 M325.57 7.85 V10.25 M345.18 217.55 V214.90 M345.18 7.85 V10.25 M359.09 217.55 V214.90 M359.09 7.85 V10.25 M369.88 217.55 V214.90 M369.88 7.85 V10.25 M378.70 217.55 V214.90 M378.70 7.85 V10.25 M386.15 217.55 V214.90 M386.15 7.85 V10.25 M392.61 217.55 V214.90 M392.61 7.85 V10.25 M398.30 217.55 V214.90 M398.30 7.85 V10.25 M403.40 217.55 V213.10 M403.40 7.85 V12.05 M69.00 8.00 H73.30 M408.05 8.00 H403.75 M69.00 21.00 H71.70 M408.05 21.00 H405.35 M69.00 34.00 H71.70 M408.05 34.00 H405.35 M69.00 47.00 H71.70 M408.05 47.00 H405.35 M69.00 60.00 H71.70 M408.05 60.00 H405.35 M69.00 73.00 H73.30 M408.05 73.00 H403.75 M69.00 86.00 H71.70 M408.05 86.00 H405.35 M69.00 99.00 H71.70 M408.05 99.00 H405.35 M69.00 112.00 H71.70 M408.05 112.00 H405.35 M69.00 125.00 H71.70 M408.05 125.00 H405.35 M69.00 138.00 H73.30 M408.05 138.00 H403.75 M69.00 151.00 H71.70 M408.05 151.00 H405.35 M69.00 164.00 H71.70 M408.05 164.00 H405.35 M69.00 177.00 H71.70 M408.05 177.00 H405.35 M69.00 190.00 H71.70 M408.05 190.00 H405.35 M69.00 203.00 H73.30 M408.05 203.00 H403.75 M69.00 216.00 H71.70 M408.05 216.00 H405.35" stroke="#000" stroke-width="1.7"/>
<rect x="69.0" y="7.85" width="339.05" height="209.70000000000002" fill="none" stroke="#000" stroke-width="2.05"/>
<g text-anchor="end" style="will-change:transform">
<text x="64.9" y="14.3">0.0</text>
<text x="65.0" y="79.3"><tspan font-size="20.6px" dy="1.3">−</tspan><tspan dx="2.0" dy="-1.3">0.5</tspan></text>
<text x="65.0" y="144.3"><tspan font-size="20.6px" dy="1.3">−</tspan><tspan dx="2.0" dy="-1.3">1.0</tspan></text>
<text x="65.0" y="209.3"><tspan font-size="20.6px" dy="1.3">−</tspan><tspan dx="2.0" dy="-1.3">1.5</tspan></text>
</g>
<g text-anchor="middle" style="will-change:transform">
<text x="180.5" y="239">1</text>
<text x="292.3" y="239">10</text>
<text x="403.5" y="239">100</text>
<text x="238.4" y="269.3" font-size="19.5px">redshift z</text>
<text transform="translate(14.3 112.7) rotate(-90)" font-size="19px">C(z)</text>
</g>
</svg>
</body></html>
